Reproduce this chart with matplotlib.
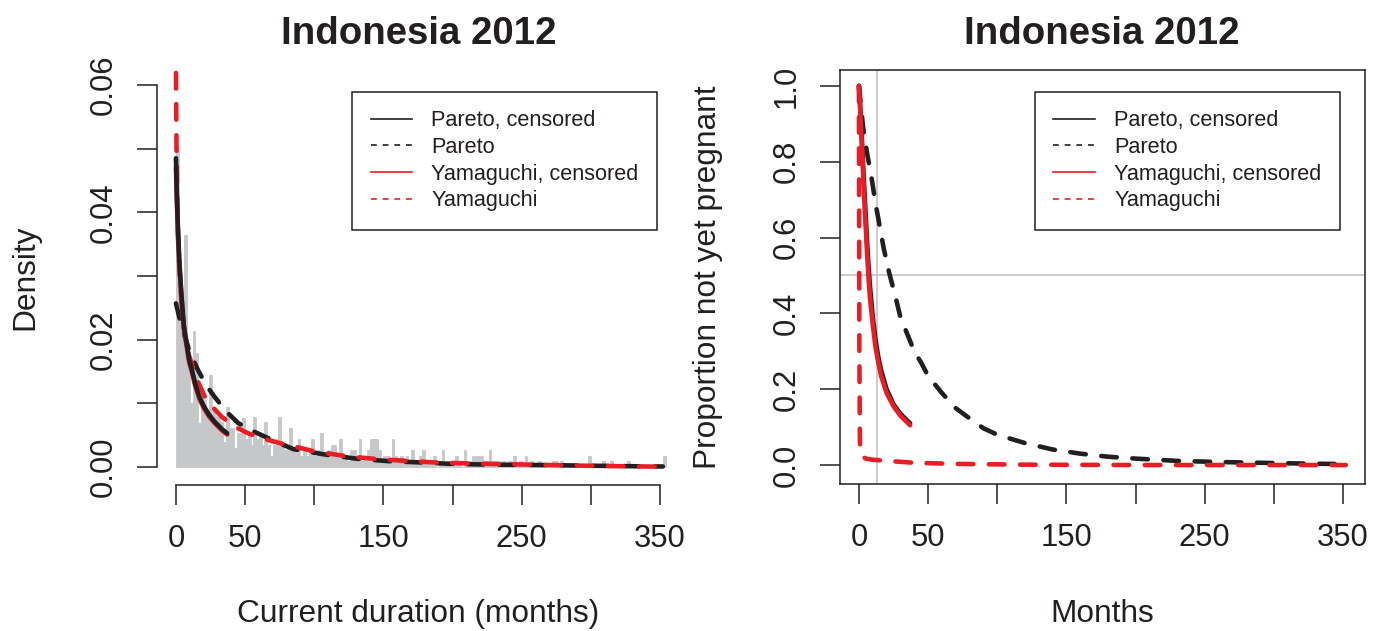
import matplotlib
matplotlib.use("Agg")
import matplotlib.pyplot as plt
import numpy as np

plt.rcParams['font.family'] = ['Liberation Sans', 'DejaVu Sans']

# ---- data ----
# histogram of current duration: bins of 2 months starting at 0 (density)
bin_width = 2
hist_density = [
    # 0 - 48
    0.050, 0.027, 0.024, 0.0364, 0.018, 0.010, 0.0213, 0.0179, 0.0069, 0.012,
    0.0105, 0.009, 0.0144, 0.0088, 0.0080, 0.0078, 0.0070, 0.0040, 0.0095, 0.0062,
    0.0062, 0.0030, 0.0053, 0.0053, 0.0077,
    # 50 - 118
    0.0044, 0.0053, 0.0035, 0.0078, 0.0044, 0.0053, 0.0035, 0.0070, 0.0035, 0.0018,
    0.0035, 0.0044, 0.0078, 0.0035, 0.0027, 0.0035, 0.0062, 0.0027, 0.0027, 0.0044,
    0.0018, 0.0027, 0.0018, 0.0027, 0.0044, 0.0018, 0.0027, 0.0053, 0.0018, 0.0018,
    0.0027, 0.0035, 0.0035, 0.0018, 0.0044,
    # 120 - 198
    0.0018, 0.0018, 0.0009, 0.0027, 0.0027, 0.0018, 0.0044, 0.0009, 0.0018, 0.0027,
    0.0044, 0.0044, 0.0044, 0.0027, 0.0009, 0.0018, 0.0018, 0.0009, 0.0044, 0.0018,
    0.0009, 0.0018, 0.0009, 0.0018, 0.0009, 0.0027, 0.0009, 0.0009, 0.0018, 0.0027,
    0.0009, 0.0009, 0.0009, 0.0018, 0.0, 0.0009, 0.0027, 0.0009, 0.0009, 0.0,
    # 200 - 270
    0.0009, 0.0018, 0.0009, 0.0, 0.0027, 0.0009, 0.0009, 0.0018, 0.0018, 0.0018,
    0.0018, 0.0009, 0.0009, 0.0027, 0.0009, 0.0009, 0.0009, 0.0, 0.0009, 0.0,
    0.0009, 0.0009, 0.0018, 0.0, 0.0009, 0.0, 0.0018, 0.0, 0.0009, 0.0,
    0.0, 0.0009, 0.0, 0.0, 0.0, 0.0,
    # 272 - 352
    0.0009, 0.0009, 0.0, 0.0009, 0.0, 0.0, 0.0, 0.0, 0.0, 0.0,
    0.0, 0.0, 0.0, 0.0018, 0.0, 0.0, 0.0, 0.0, 0.0009, 0.0,
    0.0, 0.0009, 0.0, 0.0, 0.0, 0.0, 0.0, 0.0009, 0.0, 0.0,
    0.0, 0.0, 0.0, 0.0, 0.0, 0.0, 0.0, 0.0, 0.0, 0.0,
    0.0018,
]
bin_left = np.arange(len(hist_density)) * bin_width

# fitted densities (left panel)
dens_pareto_cens_x = [0, 0.5, 1.2, 2.4, 4, 5.8, 7.7, 9.6, 11.3, 14, 17, 20, 24, 28, 33, 37]
dens_pareto_cens_y = [0.0485, 0.044, 0.039, 0.0325, 0.027, 0.022, 0.0195, 0.0168, 0.0155,
                      0.013, 0.011, 0.0096, 0.0082, 0.0071, 0.006, 0.0053]
dens_yam_cens_x = dens_pareto_cens_x
dens_yam_cens_y = [0.047, 0.043, 0.038, 0.032, 0.0265, 0.0215, 0.019, 0.0164, 0.0151,
                   0.0127, 0.0107, 0.0093, 0.0079, 0.0069, 0.0058, 0.0051]
dens_pareto_x = [0, 2.9, 6.5, 10, 16, 22, 28, 36, 45, 54, 64, 74, 85, 106.5, 130.6,
                 154.7, 178.8, 200, 230, 268, 300, 338, 352]
dens_pareto_y = [0.0257, 0.0231, 0.0205, 0.018, 0.0152, 0.0128, 0.011, 0.0088, 0.0069,
                 0.0058, 0.0048, 0.0038, 0.0028, 0.002, 0.0013, 0.0009, 0.0007, 0.00047,
                 0.00037, 0.0003, 0.0002, 0.0001, 0.00008]
dens_yam_x = [0, 0.4, 0.9, 1.5, 2.5, 4, 6.5, 9, 11.3, 15, 21, 27, 33, 42, 52, 64, 76, 88,
              99, 111, 123, 135, 147.5, 160, 171, 188.5, 210, 230, 256, 290, 320, 352]
dens_yam_y = [0.0619, 0.05, 0.042, 0.036, 0.031, 0.026, 0.0205, 0.0178, 0.0163, 0.0138,
              0.011, 0.0093, 0.0079, 0.0064, 0.0053, 0.0044, 0.0037, 0.0031, 0.0025,
              0.0021, 0.0017, 0.00145, 0.0012, 0.00105, 0.0009, 0.0007, 0.00057,
              0.00047, 0.00037, 0.00022, 0.00012, 0.00005]

# survival curves (right panel)
surv_cens_x = [0, 1, 2, 3, 4, 5, 6, 7, 8, 10, 12, 14, 16, 20, 25, 30, 37]
surv_pareto_cens_y = [1.0, 0.94, 0.87, 0.79, 0.72, 0.65, 0.58, 0.52, 0.47, 0.39, 0.33,
                      0.285, 0.25, 0.2, 0.16, 0.135, 0.11]
surv_yam_cens_y = [1.0, 0.93, 0.85, 0.77, 0.69, 0.62, 0.55, 0.49, 0.44, 0.37, 0.31,
                   0.27, 0.235, 0.19, 0.155, 0.13, 0.105]
surv_pareto_x = [0, 3, 6, 9, 12, 15, 18, 22, 26, 30, 35, 40, 45, 50, 60, 70, 80, 90, 100,
                 120, 140, 160, 180, 200, 230, 260, 290, 320, 352]
surv_pareto_y = [1.0, 0.89, 0.82, 0.76, 0.69, 0.63, 0.57, 0.505, 0.45, 0.39, 0.345, 0.30,
                 0.27, 0.235, 0.19, 0.15, 0.123, 0.097, 0.08, 0.058, 0.041, 0.03, 0.022,
                 0.017, 0.011, 0.008, 0.006, 0.004, 0.0025]
surv_yam_x = [0, 0.3, 0.7, 1.5, 5, 10, 20, 40, 70, 120, 200, 352]
surv_yam_y = [1.0, 0.3, 0.06, 0.025, 0.017, 0.014, 0.011, 0.006, 0.003, 0.001, 0.0, 0.0]

median_month = 12.8
half = 0.5

labels = ["Pareto, censored", "Pareto", "Yamaguchi, censored", "Yamaguchi"]
title = "Indonesia 2012"

BLACK = "#231f20"
RED = "#ec1c24"
GRAY = "#c6c7c9"
LGRAY = "#c8c8c8"

W, H = 1373, 631
fig = plt.figure(figsize=(W / 100, H / 100), dpi=100)

def px_axes(l, t, r, b):
    return fig.add_axes([l / W, 1 - b / H, (r - l) / W, (b - t) / H])

ax1 = px_axes(157, 70, 679, 485)
ax2 = px_axes(840, 70, 1365, 484)

lw = 3.3
dash = (3.4, 3.4)

# left: histogram + densities
ax1.bar(bin_left, hist_density, width=bin_width, align='edge', color=GRAY,
        edgecolor=GRAY, linewidth=0.6)
ax1.plot(dens_pareto_x, dens_pareto_y, color=BLACK, lw=lw, dashes=dash,
         dash_capstyle='round')
ax1.plot(dens_yam_x, dens_yam_y, color=RED, lw=lw, dashes=dash, dash_capstyle='round')
ax1.plot(dens_yam_cens_x, dens_yam_cens_y, color=RED, lw=lw, solid_capstyle='round')
ax1.plot(dens_pareto_cens_x, dens_pareto_cens_y, color=BLACK, lw=lw, solid_capstyle='round')

ax1.set_xlim(-13.7, 363.7)
ax1.set_ylim(-0.00283, 0.06236)
ax1.spines['top'].set_visible(False)
ax1.spines['right'].set_visible(False)
ax1.spines['left'].set_bounds(0, 0.06)
ax1.spines['bottom'].set_bounds(0, 350)
ax1.set_yticks(np.arange(0, 0.061, 0.01))
ax1.set_yticklabels(["0.00", "", "0.02", "", "0.04", "", "0.06"])

# right: survival
ax2.axhline(half, color=LGRAY, lw=1.3)
ax2.axvline(median_month, color=LGRAY, lw=1.3)
ax2.plot(surv_pareto_x, surv_pareto_y, color=BLACK, lw=lw, dashes=dash,
         dash_capstyle='round')
ax2.plot(surv_yam_x, surv_yam_y, color=RED, lw=lw, dashes=dash, dash_capstyle='round')
ax2.plot(surv_cens_x, surv_pareto_cens_y, color=BLACK, lw=lw, solid_capstyle='round')
ax2.plot(surv_cens_x, surv_yam_cens_y, color=RED, lw=lw, solid_capstyle='round')
ax2.set_xlim(-13.7, 365.9)
ax2.set_ylim(-0.05, 1.042)
ax2.set_yticks(np.arange(0, 1.01, 0.2))
ax2.set_yticklabels(["0.0", "0.2", "0.4", "0.6", "0.8", "1.0"])

handles = [
    plt.Line2D([], [], color=BLACK, lw=1.2),
    plt.Line2D([], [], color=BLACK, lw=1.2, dashes=(3.5, 3.5)),
    plt.Line2D([], [], color=RED, lw=1.2),
    plt.Line2D([], [], color=RED, lw=1.2, dashes=(3.5, 3.5)),
]

for ax in (ax1, ax2):
    ax.set_xticks(np.arange(0, 351, 50))
    ax.set_xticklabels(["0", "50", "", "150", "", "250", "", "350"])
    for s in ax.spines.values():
        s.set_linewidth(1.1)
        s.set_color(BLACK)
    ax.tick_params(length=14.4, width=1.1, color=BLACK, labelsize=22.3,
                   labelcolor=BLACK, direction='out')
    ax.tick_params(axis='x', pad=14)
    ax.tick_params(axis='y', pad=13)
    for t in ax.get_yticklabels():
        t.set_rotation(90)
        t.set_va('center')

leg_kw = dict(fontsize=15.6, fancybox=False, edgecolor=BLACK, framealpha=1,
              handlelength=1.9, handletextpad=0.9, labelspacing=0.26,
              borderpad=0.85, borderaxespad=0, loc='upper right')
leg1 = ax1.legend(handles, labels, bbox_to_anchor=(0.958, 0.947), **leg_kw)
leg2 = ax2.legend(handles, labels, bbox_to_anchor=(0.952, 0.947), **leg_kw)
for leg in (leg1, leg2):
    leg.get_frame().set_linewidth(1.1)
    for t in leg.get_texts():
        t.set_color(BLACK)

# titles and axis labels placed by pixel
fig.text(419 / W, 1 - 34 / H, title, fontsize=27.6, fontweight='bold',
         ha='center', va='center', color=BLACK)
fig.text(1102 / W, 1 - 34 / H, title, fontsize=27.6, fontweight='bold',
         ha='center', va='center', color=BLACK)

fig.text(25 / W, 1 - 277 / H, "Density", fontsize=22.8, rotation=90,
         ha='center', va='center', color=BLACK)
fig.text(418 / W, 1 - 614 / H, "Current duration (months)", fontsize=22.8,
         ha='center', va='center', color=BLACK)
fig.text(708 / W, 1 - 277 / H, "Proportion not yet pregnant", fontsize=22.8,
         rotation=90, ha='center', va='center', color=BLACK)
fig.text(1102 / W, 1 - 614 / H, "Months", fontsize=22.8,
         ha='center', va='center', color=BLACK)

fig.savefig("out.png", dpi=100, facecolor='white')
